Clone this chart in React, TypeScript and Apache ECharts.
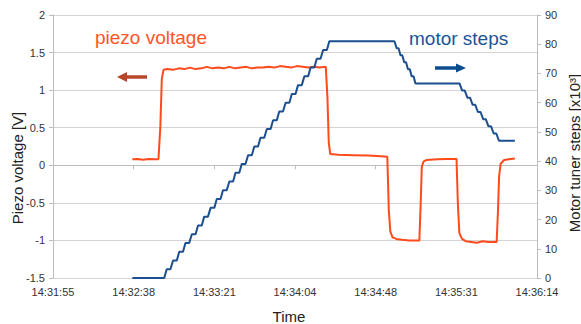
import React, { useEffect, useRef } from "react";
import * as echarts from "echarts";

// X tick labels (one every 43 s, starting 14:31:55)
const timeLabels = ["14:31:55", "14:32:38", "14:33:21", "14:34:04", "14:34:48", "14:35:31", "14:36:14"];

// Piezo voltage [V] : [seconds after 14:31:55, volts]
const piezoData: [number, number][] = [
  [42.3, 0.08], [45, 0.085], [48, 0.075], [51, 0.085], [54, 0.08], [56.2, 0.08],
  [57.2, 0.5], [58.0, 1.15], [58.9, 1.27], [61, 1.28], [64, 1.27], [67, 1.29], [70, 1.28],
  [73, 1.3], [76, 1.28], [79, 1.29], [82, 1.31], [85, 1.29], [88, 1.3], [91, 1.29],
  [94, 1.31], [97, 1.29], [100, 1.3], [103, 1.31], [106, 1.29], [109, 1.3], [112, 1.3],
  [115, 1.31], [118, 1.3], [121, 1.32], [124, 1.31], [127, 1.3], [130, 1.32], [133, 1.31],
  [136, 1.3], [139, 1.31], [142, 1.3], [145.4, 1.31],
  [146.3, 0.9], [147.0, 0.3], [147.8, 0.15], [152, 0.14], [160, 0.135], [168, 0.13],
  [175, 0.12], [178.2, 0.115],
  [179.0, -0.6], [179.8, -0.88], [181, -0.96], [183, -0.98], [186, -0.99], [190, -1.0],
  [194, -1.0], [195.3, -1.0],
  [196.0, -0.5], [196.6, -0.02], [197.5, 0.05], [199, 0.07], [205, 0.08], [210, 0.085],
  [215.1, 0.085],
  [215.8, -0.5], [216.6, -0.9], [218, -0.98], [220, -1.01], [223, -1.02], [226, -1.03],
  [229, -1.01], [232, -1.02], [235, -1.02], [236.5, -1.02],
  [237.2, -0.6], [237.8, -0.15], [238.6, 0.02], [240.5, 0.07], [243, 0.08], [246.2, 0.09],
];

// Motor tuner steps [x10^3] : [seconds after 14:31:55, steps]
const motorData: [number, number][] = [
  [42.3, 0], [57.3, 0], [59.3, 0], [60.6, 3], [62.6, 3], [64.0, 6], [66.0, 6], [67.3, 9],
  [69.3, 9], [70.6, 12], [72.6, 12], [74.0, 15], [76.0, 15], [77.3, 18], [79.3, 18],
  [80.6, 21], [82.6, 21], [84.0, 24], [86.0, 24], [87.3, 27], [89.3, 27], [90.6, 30],
  [92.6, 30], [94.0, 33], [96.0, 33], [97.3, 36], [99.3, 36], [100.6, 39], [102.6, 39],
  [104.0, 42], [106.0, 42], [107.3, 45], [109.3, 45], [110.6, 48], [112.6, 48], [114.0, 51],
  [116.0, 51], [117.3, 54], [119.3, 54], [120.6, 57], [122.6, 57], [124.0, 60], [126.0, 60],
  [127.3, 63], [129.3, 63], [130.6, 66], [132.6, 66], [134.0, 69], [136.0, 69], [137.3, 72],
  [139.3, 72], [140.6, 75], [142.6, 75], [144.0, 78], [146.0, 78], [147.3, 81],
  [182, 81],
  [183.2, 78.6], [184.2, 78.6], [185.2, 76.2], [186.2, 76.2], [187.2, 73.8], [188.2, 73.8],
  [189.2, 71.4], [190.2, 71.4], [191.2, 69], [192.2, 69], [193.2, 66.6],
  [216.7, 66.6],
  [218.1, 64.15], [219.5, 64.15], [220.9, 61.7], [222.3, 61.7], [223.7, 59.25], [225.1, 59.25],
  [226.5, 56.8], [227.9, 56.8], [229.3, 54.35], [230.7, 54.35], [232.1, 51.9], [233.5, 51.9],
  [234.9, 49.45], [236.3, 49.45], [237.7, 47],
  [246.2, 47],
];

const FONT = "Liberation Sans, Arial, sans-serif";

export default function App() {
  const ref = useRef<HTMLDivElement>(null);

  useEffect(() => {
    if (!ref.current) return;
    const chart = echarts.init(ref.current, undefined, { renderer: "svg" });
    const axisGray = "#bdbdbd";
    chart.setOption({
      animation: false,
      backgroundColor: "#ffffff",
      textStyle: { fontFamily: FONT },
      grid: { left: 53, right: 44, top: 15, bottom: 46, containLabel: false },
      xAxis: {
        type: "value",
        min: 0,
        max: 258,
        interval: 43,
        axisLine: { show: true, lineStyle: { color: axisGray } },
        axisTick: { show: true, length: 4, lineStyle: { color: axisGray } },
        splitLine: { show: false },
        axisLabel: {
          color: "#333",
          fontSize: 11,
          margin: 8,
          fontFamily: FONT,
          formatter: (v: number) => timeLabels[Math.round(v / 43)] ?? "",
        },
      },
      yAxis: [
        {
          type: "value",
          min: -1.5,
          max: 2,
          interval: 0.5,
          position: "left",
          axisLine: { show: true, lineStyle: { color: axisGray } },
          axisTick: { show: true, length: 4, lineStyle: { color: axisGray } },
          splitLine: { show: true, lineStyle: { color: "#d4d4d4", width: 1 } },
          axisLabel: { color: "#333", fontSize: 11, margin: 8, fontFamily: FONT },
        },
        {
          type: "value",
          min: 0,
          max: 90,
          interval: 10,
          position: "right",
          axisLine: { show: true, lineStyle: { color: axisGray } },
          axisTick: { show: true, length: 4, lineStyle: { color: axisGray } },
          splitLine: { show: false },
          axisLabel: { color: "#333", fontSize: 11, margin: 8, fontFamily: FONT },
        },
      ],
      series: [
        {
          name: "piezo voltage",
          type: "line",
          yAxisIndex: 0,
          data: piezoData,
          showSymbol: false,
          lineStyle: { color: "#ff4a1c", width: 2 },
          itemStyle: { color: "#ff4a1c" },
          z: 2,
        },
        {
          name: "motor steps",
          type: "line",
          yAxisIndex: 1,
          data: motorData,
          showSymbol: false,
          lineStyle: { color: "#1b4f8f", width: 2 },
          itemStyle: { color: "#1b4f8f" },
          z: 3,
        },
      ],
      graphic: [
        {
          type: "text",
          x: 95,
          y: 37,
          style: {
            text: "piezo voltage",
            fill: "#ff5526",
            fontSize: 19,
            fontFamily: FONT,
            textAlign: "left",
            textVerticalAlign: "middle",
          },
        },
        {
          type: "text",
          x: 409,
          y: 38,
          style: {
            text: "motor steps",
            fill: "#1c5496",
            fontSize: 19,
            fontFamily: FONT,
            textAlign: "left",
            textVerticalAlign: "middle",
          },
        },
        {
          type: "line",
          shape: { x1: 147, y1: 77, x2: 125, y2: 77 },
          style: { stroke: "#b8482c", lineWidth: 3.5 },
        },
        {
          type: "polygon",
          shape: { points: [[117, 77], [127, 72], [127, 82]] },
          style: { fill: "#b8482c" },
        },
        {
          type: "line",
          shape: { x1: 435, y1: 68, x2: 458, y2: 68 },
          style: { stroke: "#0d4b8f", lineWidth: 3.5 },
        },
        {
          type: "polygon",
          shape: { points: [[466, 68], [456, 63.5], [456, 72.5]] },
          style: { fill: "#0d4b8f" },
        },
        {
          type: "text",
          x: 17,
          y: 168,
          rotation: Math.PI / 2,
          style: {
            text: "Piezo voltage [V]",
            fill: "#222",
            fontSize: 15,
            fontFamily: FONT,
            textAlign: "center",
            textVerticalAlign: "middle",
          },
        },
        {
          type: "text",
          x: 574,
          y: 153,
          rotation: Math.PI / 2,
          style: {
            text: "Motor tuner steps [x10³]",
            fill: "#222",
            fontSize: 15,
            fontFamily: FONT,
            textAlign: "center",
            textVerticalAlign: "middle",
          },
        },
        {
          type: "text",
          x: 289,
          y: 316,
          style: {
            text: "Time",
            fill: "#222",
            fontSize: 15,
            fontFamily: FONT,
            textAlign: "center",
            textVerticalAlign: "middle",
          },
        },
      ],
    });
    return () => chart.dispose();
  }, []);

  return (
    <div
      ref={ref}
      style={{ position: "fixed", left: 0, top: 0, width: 581, height: 324, background: "#fff" }}
    />
  );
}
